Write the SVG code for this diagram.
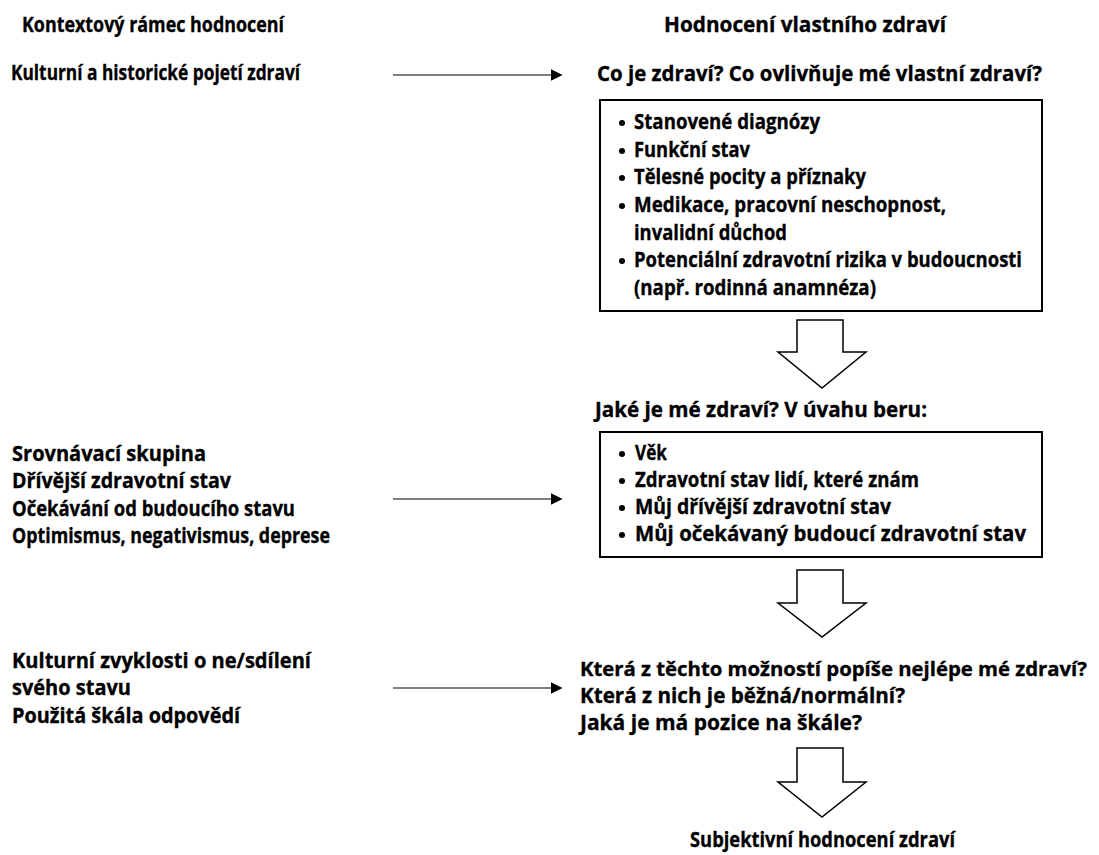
<svg xmlns="http://www.w3.org/2000/svg" width="1099" height="855" viewBox="0 0 1099 855">
<style>
text{font-family:"Open Sans","Liberation Sans",sans-serif;font-weight:700;font-size:21.5px;fill:#000;stroke:#000;stroke-width:0.35}
.box{fill:#fff;stroke:#000;stroke-width:2}
.hollow{fill:#fff;stroke:#000;stroke-width:1.5;stroke-linejoin:miter}
.conn{stroke:#7f7f7f;stroke-width:2;fill:none}
.dot{fill:#000}
</style>
<defs>
<marker id="ah" viewBox="0 0 10 10" refX="2" refY="5" markerWidth="6" markerHeight="6" orient="auto" markerUnits="strokeWidth">
<path d="M0,0 L10,5 L0,10 z" fill="#000"/>
</marker>
</defs>
<g id="headers">
<text x="22" y="32" textLength="262" lengthAdjust="spacingAndGlyphs">Kontextový rámec hodnocení</text>
<text x="664" y="32" textLength="282" lengthAdjust="spacingAndGlyphs">Hodnocení vlastního zdraví</text>
</g>
<g id="ctx1">
<text x="11" y="80" textLength="289" lengthAdjust="spacingAndGlyphs">Kulturní a historické pojetí zdraví</text>
</g>
<g id="q1">
<text x="597" y="81" textLength="445" lengthAdjust="spacingAndGlyphs">Co je zdraví? Co ovlivňuje mé vlastní zdraví?</text>
</g>
<g id="box1">
<rect class="box" x="600" y="100" width="442" height="211"/>
<circle class="dot" cx="622" cy="123" r="3"/><text x="634" y="129" textLength="186" lengthAdjust="spacingAndGlyphs">Stanovené diagnózy</text>
<circle class="dot" cx="622" cy="151" r="3"/><text x="634" y="157" textLength="116" lengthAdjust="spacingAndGlyphs">Funkční stav</text>
<circle class="dot" cx="622" cy="178" r="3"/><text x="634" y="184" textLength="232" lengthAdjust="spacingAndGlyphs">Tělesné pocity a příznaky</text>
<circle class="dot" cx="622" cy="206" r="3"/><text x="634" y="212" textLength="312" lengthAdjust="spacingAndGlyphs">Medikace, pracovní neschopnost,</text>
<text x="634" y="240" textLength="153" lengthAdjust="spacingAndGlyphs">invalidní důchod</text>
<circle class="dot" cx="622" cy="261" r="3"/><text x="634" y="267" textLength="388" lengthAdjust="spacingAndGlyphs">Potenciální zdravotní rizika v budoucnosti</text>
<text x="634" y="295" textLength="242" lengthAdjust="spacingAndGlyphs">(např. rodinná anamnéza)</text>
</g>
<g id="harrow1">
<path class="hollow" d="M797,320 H843 V352 H866 L822,388 L778,352 H797 Z"/>
</g>
<g id="q2">
<text x="595" y="417" textLength="332" lengthAdjust="spacingAndGlyphs">Jaké je mé zdraví? V úvahu beru:</text>
</g>
<g id="box2">
<rect class="box" x="600" y="432" width="442" height="125"/>
<circle class="dot" cx="622" cy="454" r="3"/><text x="635" y="460" textLength="32" lengthAdjust="spacingAndGlyphs">Věk</text>
<circle class="dot" cx="622" cy="481" r="3"/><text x="635" y="487" textLength="284" lengthAdjust="spacingAndGlyphs">Zdravotní stav lidí, které znám</text>
<circle class="dot" cx="622" cy="508" r="3"/><text x="635" y="514" textLength="256" lengthAdjust="spacingAndGlyphs">Můj dřívější zdravotní stav</text>
<circle class="dot" cx="622" cy="535" r="3"/><text x="635" y="541" textLength="391" lengthAdjust="spacingAndGlyphs">Můj očekávaný budoucí zdravotní stav</text>
</g>
<g id="ctx2">
<text x="12" y="461" textLength="194" lengthAdjust="spacingAndGlyphs">Srovnávací skupina</text>
<text x="12" y="488" textLength="219" lengthAdjust="spacingAndGlyphs">Dřívější zdravotní stav</text>
<text x="12" y="516" textLength="283" lengthAdjust="spacingAndGlyphs">Očekávání od budoucího stavu</text>
<text x="12" y="543" textLength="318" lengthAdjust="spacingAndGlyphs">Optimismus, negativismus, deprese</text>
</g>
<g id="harrow2">
<path class="hollow" d="M797,570 H843 V603 H866 L822,637 L778,603 H797 Z"/>
</g>
<g id="q3">
<text x="580" y="676" style="font-size:19.5px" textLength="507" lengthAdjust="spacingAndGlyphs">Která z těchto možností popíše nejlépe mé zdraví?</text>
<text x="580" y="703" textLength="325" lengthAdjust="spacingAndGlyphs">Která z nich je běžná/normální?</text>
<text x="580" y="730" textLength="282" lengthAdjust="spacingAndGlyphs">Jaká je má pozice na škále?</text>
</g>
<g id="ctx3">
<text x="12" y="668" textLength="299" lengthAdjust="spacingAndGlyphs">Kulturní zvyklosti o ne/sdílení</text>
<text x="12" y="695" textLength="119" lengthAdjust="spacingAndGlyphs">svého stavu</text>
<text x="12" y="723" textLength="228" lengthAdjust="spacingAndGlyphs">Použitá škála odpovědí</text>
</g>
<g id="harrow3">
<path class="hollow" d="M797,748 H843 V782 H866 L822,817 L778,782 H797 Z"/>
</g>
<g id="result">
<text x="690" y="847" textLength="265" lengthAdjust="spacingAndGlyphs">Subjektivní hodnocení zdraví</text>
</g>
<g id="connectors">
<line class="conn" x1="393" y1="75" x2="553" y2="75" marker-end="url(#ah)"/>
<line class="conn" x1="393" y1="499" x2="553" y2="499" marker-end="url(#ah)"/>
<line class="conn" x1="393" y1="688" x2="553" y2="688" marker-end="url(#ah)"/>
</g>
</svg>
